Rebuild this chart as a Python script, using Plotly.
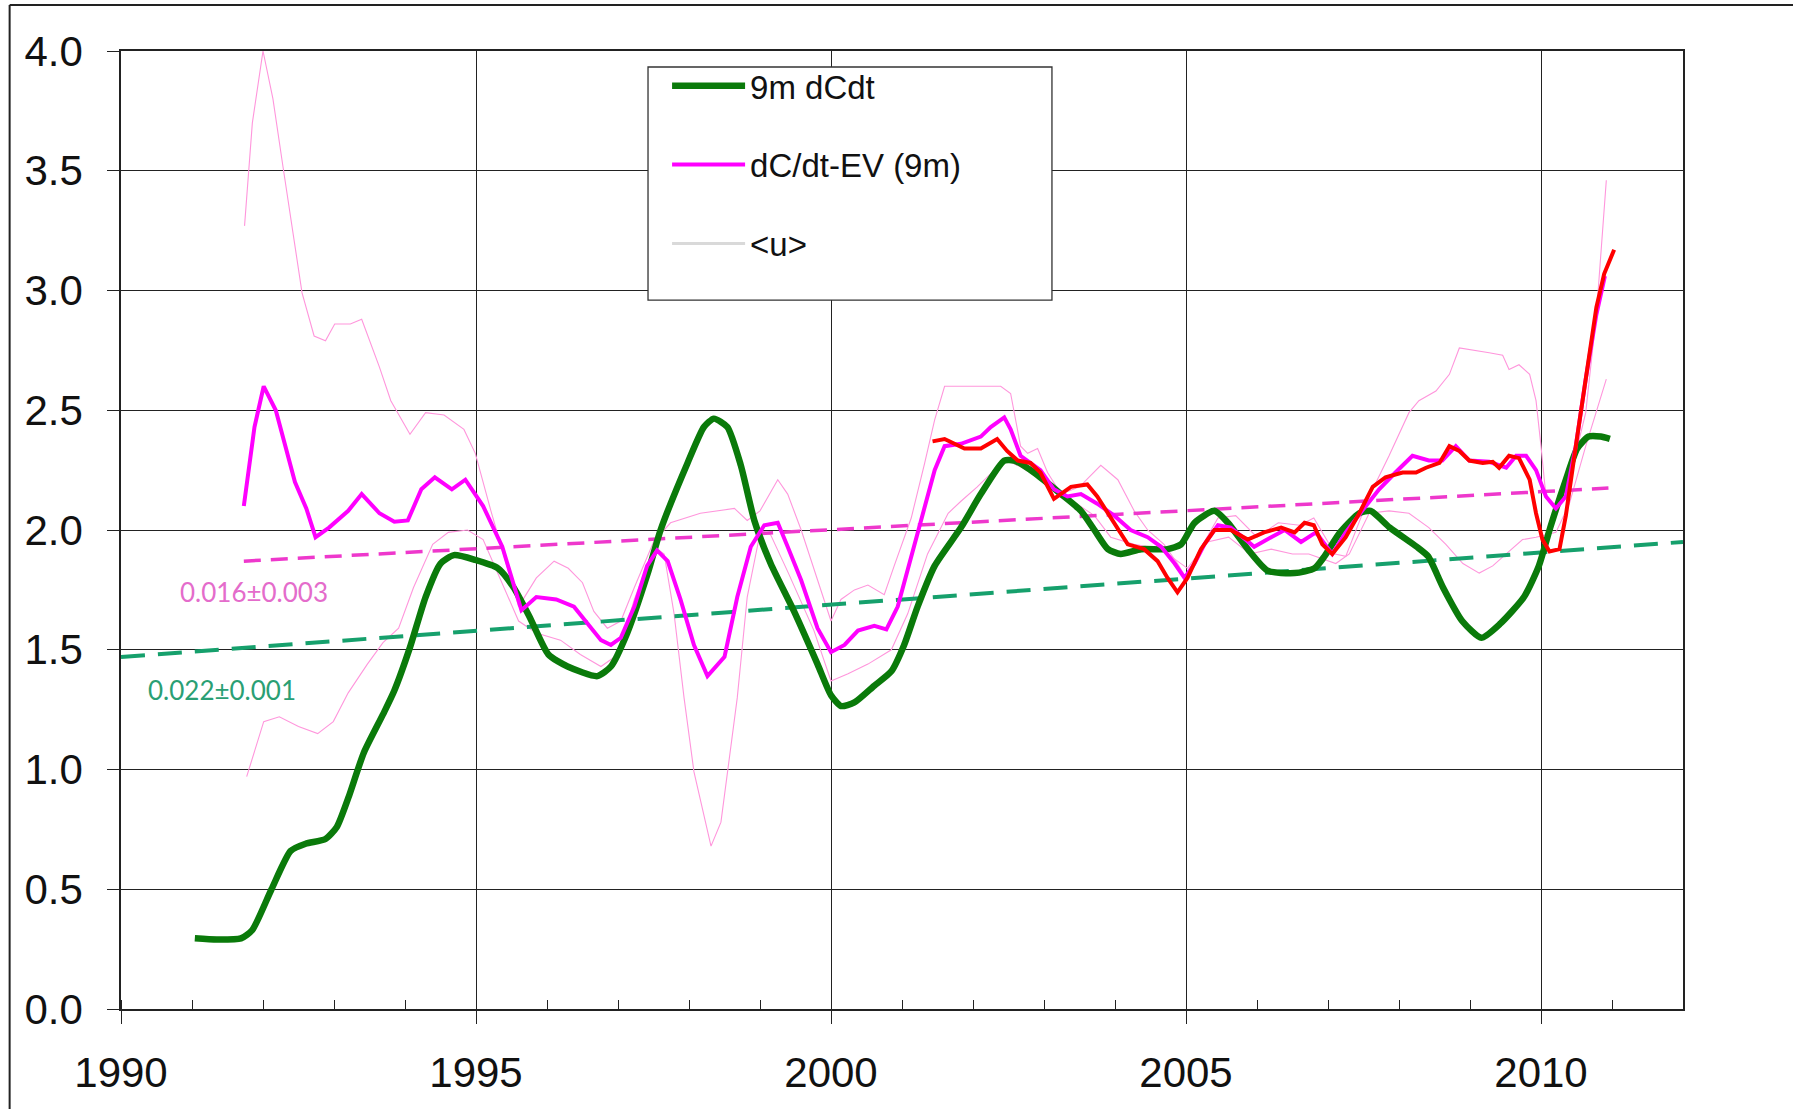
import plotly.graph_objects as go

# ---------------- data ----------------
green_x = [1991.04, 1991.35, 1991.69, 1991.85, 1992.12, 1992.39, 1992.6, 1992.88, 1993.04, 1993.2,
           1993.42, 1993.69, 1993.85, 1994.07, 1994.29, 1994.5, 1994.69, 1994.99, 1995.31, 1995.53,
           1995.75, 1996.02, 1996.29, 1996.71, 1996.9, 1997.13, 1997.42, 1997.6, 1997.98, 1998.21,
           1998.35, 1998.54, 1998.73, 1998.92, 1999.15, 1999.48, 1999.81, 2000.0, 2000.14, 2000.33,
           2000.61, 2000.85, 2001.03, 2001.22, 2001.46, 2001.83, 2002.11, 2002.44, 2002.58, 2002.86,
           2003.24, 2003.52, 2003.71, 2003.9, 2004.08, 2004.37, 2004.74, 2004.93, 2005.12, 2005.4,
           2005.59, 2005.87, 2006.15, 2006.53, 2006.81, 2006.95, 2007.17, 2007.44, 2007.6, 2007.87,
           2008.25, 2008.41, 2008.62, 2008.89, 2009.16, 2009.43, 2009.76, 2009.97, 2010.13, 2010.35,
           2010.51, 2010.67, 2010.84, 2010.97]
green_y = [0.295, 0.29, 0.295, 0.33, 0.50, 0.66, 0.69, 0.71, 0.76, 0.88,
           1.07, 1.23, 1.33, 1.51, 1.72, 1.86, 1.895, 1.875, 1.84, 1.76,
           1.64, 1.48, 1.43, 1.39, 1.43, 1.57, 1.82, 2.0, 2.28, 2.43,
           2.465, 2.43, 2.27, 2.04, 1.86, 1.66, 1.44, 1.31, 1.265, 1.28,
           1.35, 1.41, 1.52, 1.68, 1.85, 2.01, 2.15, 2.29, 2.29, 2.24,
           2.15, 2.08, 2.0, 1.92, 1.90, 1.92, 1.92, 1.94, 2.03, 2.08,
           2.03, 1.92, 1.83, 1.82, 1.84, 1.89, 1.99, 2.07, 2.08, 2.01,
           1.93, 1.89, 1.76, 1.62, 1.55, 1.61, 1.72, 1.85, 2.01, 2.21,
           2.34, 2.39, 2.39, 2.38]

mag_x = [1991.73, 1991.88, 1992.01, 1992.18, 1992.45, 1992.61, 1992.74, 1992.93, 1993.2, 1993.39,
         1993.64, 1993.85, 1994.04, 1994.23, 1994.42, 1994.66, 1994.85, 1995.1, 1995.37, 1995.64,
         1995.85, 1996.13, 1996.38, 1996.57, 1996.76, 1996.9, 1997.04, 1997.23, 1997.41, 1997.55,
         1997.7, 1997.88, 1998.07, 1998.26, 1998.5, 1998.68, 1998.87, 1999.06, 1999.25, 1999.39,
         1999.58, 1999.81, 2000.0, 2000.19, 2000.38, 2000.61, 2000.78, 2000.94, 2001.13, 2001.32,
         2001.46, 2001.6, 2001.83, 2002.11, 2002.25, 2002.44, 2002.53, 2002.67, 2002.95, 2003.14,
         2003.33, 2003.52, 2003.75, 2003.99, 2004.22, 2004.46, 2004.65, 2004.84, 2004.98, 2005.12,
         2005.26, 2005.45, 2005.63, 2005.82, 2005.96, 2006.2, 2006.39, 2006.62, 2006.83, 2007.06,
         2007.25, 2007.48, 2007.72, 2007.95, 2008.19, 2008.42, 2008.61, 2008.8, 2008.99, 2009.27,
         2009.51, 2009.65, 2009.79, 2009.93, 2010.07, 2010.21, 2010.35, 2010.49, 2010.63, 2010.78,
         2010.9]
mag_y = [2.10, 2.43, 2.60, 2.50, 2.20, 2.09, 1.97, 2.01, 2.08, 2.15,
         2.07, 2.035, 2.04, 2.17, 2.22, 2.17, 2.21, 2.10, 1.93, 1.665,
         1.72, 1.71, 1.68, 1.61, 1.54, 1.52, 1.55, 1.68, 1.85, 1.915,
         1.87, 1.71, 1.52, 1.39, 1.47, 1.72, 1.93, 2.02, 2.03, 1.93,
         1.79, 1.59, 1.49, 1.52, 1.58, 1.60, 1.585, 1.68, 1.89, 2.10,
         2.25, 2.35, 2.36, 2.39, 2.43, 2.47, 2.42, 2.31, 2.25, 2.17,
         2.14, 2.15, 2.11, 2.06, 2.0, 1.97, 1.93, 1.86, 1.80, 1.86,
         1.94, 2.02, 2.01, 1.965, 1.93, 1.97, 2.0, 1.95, 1.99, 1.90,
         1.99, 2.08, 2.17, 2.24, 2.31, 2.29, 2.29, 2.35, 2.29, 2.285,
         2.26, 2.31, 2.31, 2.25, 2.14, 2.09, 2.14, 2.35, 2.63, 2.90,
         3.06]

red_x = [2001.43, 2001.6, 2001.88, 2002.11, 2002.34, 2002.48, 2002.63, 2002.81, 2002.95, 2003.14,
         2003.38, 2003.61, 2003.75, 2003.99, 2004.18, 2004.41, 2004.6, 2004.74, 2004.88, 2005.02,
         2005.21, 2005.4, 2005.63, 2005.87, 2006.1, 2006.34, 2006.53, 2006.67, 2006.8, 2006.92,
         2007.06, 2007.25, 2007.44, 2007.63, 2007.81, 2008.05, 2008.24, 2008.38, 2008.57, 2008.71,
         2008.85, 2008.99, 2009.18, 2009.32, 2009.41, 2009.55, 2009.69, 2009.84, 2009.93, 2010.02,
         2010.12, 2010.26, 2010.35, 2010.49, 2010.63, 2010.78, 2010.89, 2011.03]
red_y = [2.37, 2.38, 2.34, 2.34, 2.38, 2.33, 2.29, 2.28, 2.24, 2.13,
         2.18, 2.19, 2.14, 2.03, 1.94, 1.92, 1.87, 1.80, 1.74, 1.80,
         1.92, 2.0, 2.0, 1.96, 1.99, 2.01, 1.99, 2.03, 2.02, 1.94,
         1.90, 1.97, 2.07, 2.18, 2.22, 2.24, 2.24, 2.26, 2.28, 2.35,
         2.33, 2.29, 2.28, 2.285, 2.26, 2.31, 2.30, 2.21, 2.07, 1.96,
         1.91, 1.92, 2.06, 2.35, 2.63, 2.93, 3.07, 3.17]

upper_x = [1991.74, 1991.85, 1992.0, 1992.14, 1992.28, 1992.55, 1992.72, 1992.88, 1993.01, 1993.23,
           1993.39, 1993.64, 1993.8, 1994.07, 1994.29, 1994.55, 1994.83, 1994.99, 1995.21, 1995.37,
           1995.6, 1995.85, 1996.1, 1996.3, 1996.5, 1996.66, 1996.85, 1997.04, 1997.23, 1997.5,
           1997.74, 1998.16, 1998.64, 1998.82, 1999.0, 1999.25, 1999.39, 1999.58, 1999.81, 2000.0,
           2000.14, 2000.33, 2000.52, 2000.75, 2000.89, 2001.13, 2001.32, 2001.46, 2001.6, 2002.1,
           2002.39, 2002.53, 2002.67, 2002.77, 2002.91, 2003.05, 2003.24, 2003.5, 2003.8, 2004.04,
           2004.27, 2004.46, 2004.69, 2004.88, 2005.0, 2005.2, 2005.45, 2005.7, 2006.0, 2006.3,
           2006.6, 2006.8, 2007.1, 2007.25, 2007.58, 2007.86, 2008.14, 2008.28, 2008.52, 2008.71,
           2008.85, 2009.27, 2009.46, 2009.55, 2009.69, 2009.84, 2009.93, 2010.0, 2010.07, 2010.21,
           2010.4, 2010.63, 2010.78, 2010.92]
upper_y = [3.27, 3.70, 4.0, 3.80, 3.52, 2.99, 2.81, 2.79, 2.86, 2.86,
           2.88, 2.68, 2.54, 2.40, 2.49, 2.48, 2.42, 2.32, 2.08, 1.92,
           1.68, 1.80, 1.87, 1.84, 1.78, 1.66, 1.59, 1.62, 1.76, 1.95,
           2.03, 2.07, 2.09, 2.04, 2.08, 2.21, 2.15, 2.0, 1.79, 1.62,
           1.71, 1.75, 1.77, 1.73, 1.85, 2.05, 2.28, 2.46, 2.60, 2.60,
           2.60, 2.57, 2.35, 2.32, 2.34, 2.24, 2.15, 2.18, 2.27, 2.21,
           2.08, 2.0, 1.94, 1.86, 1.80, 1.92, 2.05, 2.06, 1.97, 2.03,
           2.02, 2.05, 1.90, 1.89, 2.14, 2.31, 2.49, 2.54, 2.58, 2.65,
           2.76, 2.74, 2.73, 2.67, 2.69, 2.65, 2.54, 2.35, 2.14, 2.08,
           2.21, 2.49, 2.90, 3.46]

lower_x = [1991.77, 1992.01, 1992.23, 1992.5, 1992.77, 1992.99, 1993.2, 1993.47, 1993.69, 1993.91,
           1994.12, 1994.39, 1994.61, 1994.88, 1995.1, 1995.31, 1995.6, 1995.85, 1996.19, 1996.47,
           1996.76, 1997.0, 1997.23, 1997.51, 1997.65, 1997.79, 1997.93, 1998.07, 1998.21, 1998.31,
           1998.45, 1998.54, 1998.68, 1998.82, 1999.01, 1999.15, 1999.4, 1999.76, 2000.0, 2000.24,
           2000.52, 2000.85, 2001.08, 2001.36, 2001.65, 2001.83, 2002.06, 2002.3, 2002.48, 2002.7,
           2003.0, 2003.4, 2003.71, 2003.94, 2004.27, 2004.65, 2005.02, 2005.3, 2005.6, 2005.9,
           2006.2, 2006.5, 2006.73, 2007.11, 2007.3, 2007.58, 2007.86, 2008.14, 2008.42, 2008.66,
           2008.9, 2009.13, 2009.32, 2009.51, 2009.74, 2009.93, 2010.21, 2010.4, 2010.63, 2010.92]
lower_y = [0.97, 1.20, 1.22, 1.18, 1.15, 1.20, 1.32, 1.44, 1.53, 1.59,
           1.76, 1.94, 1.99, 2.0, 1.96, 1.82, 1.62, 1.57, 1.54, 1.48,
           1.43, 1.48, 1.71, 1.93, 1.90, 1.65, 1.30, 0.99, 0.81, 0.68,
           0.78, 0.99, 1.30, 1.72, 2.0, 1.98, 1.82, 1.58, 1.37, 1.40,
           1.44, 1.50, 1.65, 1.90, 2.07, 2.12, 2.18, 2.25, 2.29, 2.26,
           2.20, 2.12, 2.06, 1.97, 1.94, 1.92, 1.84, 1.95, 1.97, 1.90,
           1.92, 1.90, 1.90, 1.86, 1.90, 2.07, 2.08, 2.07, 2.01, 1.94,
           1.86, 1.82, 1.85, 1.90, 1.96, 1.97, 1.99, 2.11, 2.35, 2.63]

# <u> series: not visible in the chart, present in the legend only
u_x = [None]
u_y = [None]

trend_green_x = [1990.0, 2012.0]
trend_green_y = [1.47, 1.95]
trend_mag_x = [1991.73, 2010.95]
trend_mag_y = [1.87, 2.175]

label_green = "0.022\u00b10.001"
label_mag = "0.016\u00b10.003"

x_ticks = [1990, 1995, 2000, 2005, 2010]
y_ticks = [0.0, 0.5, 1.0, 1.5, 2.0, 2.5, 3.0, 3.5, 4.0]

# ---------------- figure ----------------
FONT = "Liberation Sans, Arial, sans-serif"
fig = go.Figure()

fig.add_trace(go.Scatter(x=upper_x, y=upper_y, mode="lines", showlegend=False,
                         line=dict(color="#FF96DC", width=1.1), hoverinfo="skip"))
fig.add_trace(go.Scatter(x=lower_x, y=lower_y, mode="lines", showlegend=False,
                         line=dict(color="#FF96DC", width=1.1), hoverinfo="skip"))
fig.add_trace(go.Scatter(x=trend_green_x, y=trend_green_y, mode="lines", showlegend=False,
                         line=dict(color="#16A06C", width=4, dash="24px,13px")))
fig.add_trace(go.Scatter(x=trend_mag_x, y=trend_mag_y, mode="lines", showlegend=False,
                         line=dict(color="#EE38CC", width=3.5, dash="17px,10px")))
fig.add_trace(go.Scatter(x=green_x, y=green_y, mode="lines", name="9m dCdt", legendgroup="a",
                         line=dict(color="#0A7A0A", width=6.5, shape="spline", smoothing=0.6)))
fig.add_trace(go.Scatter(x=mag_x, y=mag_y, mode="lines", name="dC/dt-EV (9m)", legendgroup="b",
                         line=dict(color="#FF00FF", width=4)))
fig.add_trace(go.Scatter(x=u_x, y=u_y, mode="lines", name="&lt;u&gt;", legendgroup="c",
                         showlegend=True, line=dict(color="#D9D9D9", width=3)))
fig.add_trace(go.Scatter(x=red_x, y=red_y, mode="lines", showlegend=False,
                         line=dict(color="#FF0000", width=4)))

fig.add_annotation(x=1991.88, y=1.742, text=label_mag, showarrow=False, xref="x", yref="y",
                   font=dict(family="Lato, Calibri, sans-serif", size=26, color="#E46CCB"))
fig.add_annotation(x=1991.42, y=1.332, text=label_green, showarrow=False, xref="x", yref="y",
                   font=dict(family="Lato, Calibri, sans-serif", size=26, color="#2A9F74"))

# outer frame (top and left edges) and legend box
fig.add_shape(type="line", xref="paper", yref="paper", x0=-0.0713, x1=-0.0713, y0=-0.2, y1=1.048,
              line=dict(color="#222222", width=2))
fig.add_shape(type="line", xref="paper", yref="paper", x0=-0.0713, x1=1.2, y0=1.048, y1=1.048,
              line=dict(color="#222222", width=2))
fig.add_shape(type="rect", xref="paper", yref="paper", x0=0.3374, x1=0.596, y0=0.740, y1=0.9833,
              line=dict(color="#333333", width=1.3), fillcolor="white", layer="above")

fig.update_layout(
    width=1793, height=1109,
    margin=dict(l=121, r=110, t=51, b=100),
    paper_bgcolor="white", plot_bgcolor="white",
    font=dict(family=FONT, color="#111111"),
    legend=dict(x=0.3496, y=0.993, xanchor="left", yanchor="top",
                bgcolor="rgba(0,0,0,0)", borderwidth=0, tracegroupgap=33,
                itemwidth=73, font=dict(family=FONT, size=33, color="#111111")),
    xaxis=dict(range=[1990, 2012], tickmode="array", tickvals=x_ticks,
               ticktext=[str(v) for v in x_ticks],
               showgrid=True, gridcolor="#222222", gridwidth=1.3,
               showline=True, linecolor="#222222", linewidth=1.5, mirror=True,
               ticks="outside", ticklen=13, tickcolor="#222222", tickwidth=1.3,
               minor=dict(dtick=1, tick0=1990, ticks="inside", ticklen=9,
                          tickcolor="#222222", tickwidth=1.3, showgrid=False),
               zeroline=False, ticklabelstandoff=13,
               tickfont=dict(family=FONT, size=42, color="#111111")),
    yaxis=dict(range=[0, 4], tickmode="array", tickvals=y_ticks,
               ticktext=["%.1f" % v for v in y_ticks],
               showgrid=True, gridcolor="#222222", gridwidth=1.3,
               showline=True, linecolor="#222222", linewidth=1.5, mirror=True,
               ticks="outside", ticklen=12, tickcolor="#222222", tickwidth=1.3,
               zeroline=False, ticklabelstandoff=16,
               tickfont=dict(family=FONT, size=42, color="#111111")),
)

fig.write_html("out.html")
